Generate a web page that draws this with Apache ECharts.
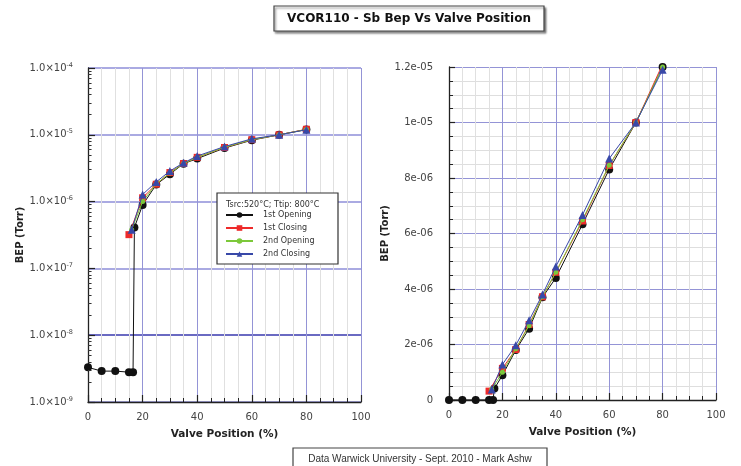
<!DOCTYPE html>
<html>
<head>
<meta charset="utf-8">
<script src="https://cdn.jsdelivr.net/npm/echarts@6/dist/echarts.min.js"></script>
<style>html,body{margin:0;padding:0;background:#fff;}#c{width:741px;height:466px;}</style>
</head>
<body>
<div id="c"></div>
<script>
// ---- data ----
const seriesNames = ['1st Opening', '1st Closing', '2nd Opening', '2nd Closing'];
const open1X  = [0, 5, 10, 15, 16.5, 17, 20, 25, 30, 35, 40, 50, 60, 70, 80];
const open1Y  = [3.3e-9, 2.9e-9, 2.9e-9, 2.8e-9, 2.8e-9, 4.1e-7, 8.9e-7, 1.8e-6, 2.57e-6, 3.7e-6, 4.4e-6, 6.33e-6, 8.31e-6, 1.0e-5, 1.2e-5];
const close1X = [15, 20, 25, 30, 35, 40, 50, 60, 70, 80];
const close1Y = [3.2e-7, 1.14e-6, 1.82e-6, 2.72e-6, 3.72e-6, 4.6e-6, 6.45e-6, 8.45e-6, 1.0e-5, 1.21e-5];
const open2X  = [16, 20, 25, 30, 35, 40, 50, 60, 70, 80];
const open2Y  = [3.8e-7, 1.0e-6, 1.85e-6, 2.68e-6, 3.72e-6, 4.6e-6, 6.5e-6, 8.46e-6, 1.0e-5, 1.2e-5];
const close2X = [16, 20, 25, 30, 35, 40, 50, 60, 70, 80];
const close2Y = [3.8e-7, 1.28e-6, 1.97e-6, 2.87e-6, 3.8e-6, 4.81e-6, 6.67e-6, 8.7e-6, 1.0e-5, 1.19e-5];

const xTickLabels = ['0', '20', '40', '60', '80', '100'];
const leftYTickExps = ['-9', '-8', '-7', '-6', '-5', '-4'];
const rightYTickLabels = ['0', '2e-06', '4e-06', '6e-06', '8e-06', '1e-05', '1.2e-05'];

const titleText = 'VCOR110 - Sb Bep Vs Valve Position';
const legendTitle = 'Tsrc:520°C; Ttip: 800°C';
const footerText = 'Data Warwick University - Sept. 2010 - Mark Ashw';

// ---- build ----
const zip = (xs, ys) => xs.map((x, i) => [x, ys[i]]);
const allData = [zip(open1X, open1Y), zip(close1X, close1Y), zip(open2X, open2Y), zip(close2X, close2Y)];
const colors = ['#111111', '#ee2a2a', '#7cc83a', '#3848a8'];
const symbols = ['circle', 'rect', 'circle', 'triangle'];
const sizes = [8, 7, 5, 8];

// minor log levels (2..9 x 10^n) for gridlines on the log axis
const minorLevels = [];
for (let e = -9; e <= -5; e++) for (let m = 2; m <= 9; m++) minorLevels.push(m * Math.pow(10, e));

const FONT = 'DejaVu Sans';
const chart = echarts.init(document.getElementById('c'), null, {renderer: 'canvas'});

const series = [];
series.push({
  type: 'line', xAxisIndex: 0, yAxisIndex: 0, data: [], silent: true, z: 1,
  markLine: {
    silent: true, animation: false, symbol: ['none', 'none'], label: {show: false},
    lineStyle: {color: '#dcdcdc', width: 1, type: 'solid'},
    data: minorLevels.map(v => ({yAxis: v}))
  }
});
series.push({
  type: 'line', xAxisIndex: 0, yAxisIndex: 0, data: [], silent: true, z: 5,
  markLine: {
    silent: true, animation: false, symbol: ['none', 'none'], label: {show: false},
    lineStyle: {color: '#333', width: 1, type: 'solid'},
    data: minorLevels.map(v => [{coord: [0, v]}, {coord: [1.3, v]}])
  }
});
for (let g = 0; g < 2; g++) {
  for (let i = 0; i < 4; i++) {
    series.push({
      name: seriesNames[i], type: 'line', xAxisIndex: g, yAxisIndex: g,
      data: allData[i], symbol: symbols[i], symbolSize: sizes[i], showSymbol: true,
      itemStyle: {color: colors[i]}, lineStyle: {color: colors[i], width: 1},
      z: 3 + i, animation: false
    });
  }
}

const xAxisBase = (gi) => ({
  type: 'value', gridIndex: gi, min: 0, max: 100, interval: 20,
  axisLine: {show: true, onZero: false, lineStyle: {color: '#222', width: 1.3}},
  axisTick: {show: true, inside: true, length: 7, lineStyle: {color: '#222', width: 1.2}},
  minorTick: {show: true, splitNumber: 4, length: 4, lineStyle: {color: '#222', width: 1}},
  splitLine: {show: true, lineStyle: {color: '#9494d6', width: 1}},
  minorSplitLine: {show: true, lineStyle: {color: '#e0e0e0', width: 1}},
  axisLabel: {fontFamily: FONT, fontSize: 10, color: '#444', margin: 10,
    formatter: (v) => xTickLabels[Math.round(v / 20)]},
  name: 'Valve Position (%)', nameLocation: 'middle', nameGap: 27,
  nameTextStyle: {fontFamily: FONT, fontSize: 10.5, fontWeight: 'bold', color: '#222'}
});

const option = {
  animation: false,
  backgroundColor: '#ffffff',
  grid: [
    {left: 88, top: 68, width: 273, height: 334},
    {left: 449, top: 67, width: 267, height: 333}
  ],
  xAxis: [xAxisBase(0), xAxisBase(1)],
  yAxis: [
    {
      type: 'log', logBase: 10, gridIndex: 0, min: 1e-9, max: 1e-4,
      axisLine: {show: true, lineStyle: {color: '#222', width: 1.3}},
      axisTick: {show: true, inside: true, length: 7, lineStyle: {color: '#222', width: 1.2}},
      splitLine: {show: true, lineStyle: {color: ['#aaaae2', '#6a6ac2', '#aaaae2', '#aaaae2', '#aaaae2', '#aaaae2'], width: 2}},
      axisLabel: {
        margin: 15, color: '#444',
        formatter: (v) => {
          const idx = Math.round(Math.log10(v)) + 9;
          return '{b|1.0×10}{s|' + leftYTickExps[idx] + '}';
        },
        rich: {
          b: {fontFamily: FONT, fontSize: 10, color: '#444'},
          s: {fontFamily: FONT, fontSize: 6.5, color: '#444', padding: [0, 0, 6, 0]}
        }
      },
      name: 'BEP (Torr)', nameLocation: 'middle', nameGap: 63,
      nameTextStyle: {fontFamily: FONT, fontSize: 10, fontWeight: 'bold', color: '#222'}
    },
    {
      type: 'value', gridIndex: 1, min: 0, max: 1.2e-5, interval: 2e-6,
      axisLine: {show: true, lineStyle: {color: '#222', width: 1.3}},
      axisTick: {show: true, inside: true, length: 6, lineStyle: {color: '#222', width: 1.2}},
      minorTick: {show: true, splitNumber: 4, length: 4, lineStyle: {color: '#222', width: 1}},
      splitLine: {show: true, lineStyle: {color: '#9494d6', width: 1}},
      minorSplitLine: {show: true, lineStyle: {color: '#dedede', width: 1}},
      axisLabel: {fontFamily: FONT, fontSize: 10, color: '#444', margin: 16,
        formatter: (v) => rightYTickLabels[Math.round(v / 2e-6)]},
      name: 'BEP (Torr)', nameLocation: 'middle', nameGap: 59,
      nameTextStyle: {fontFamily: FONT, fontSize: 10, fontWeight: 'bold', color: '#222'}
    }
  ],
  legend: {
    data: seriesNames, orient: 'vertical', left: 225, top: 211,
    itemWidth: 27, itemHeight: 7, itemGap: 5, padding: 0, z: 10,
    textStyle: {fontFamily: FONT, fontSize: 8, color: '#333', padding: [0, 0, 0, 5]}
  },
  graphic: [
    {type: 'rect', z: 10, shape: {x: 274, y: 6, width: 270, height: 25},
      style: {fill: '#fff', stroke: '#444', lineWidth: 1.2, shadowColor: 'rgba(0,0,0,0.45)', shadowOffsetX: 1.5, shadowOffsetY: 2, shadowBlur: 2}},
    {type: 'text', z: 11, x: 409, y: 19,
      style: {text: titleText, fontFamily: FONT, fontSize: 12, fontWeight: 'bold', fill: '#111', align: 'center', verticalAlign: 'middle'}},
    {type: 'rect', z: 9, shape: {x: 217, y: 193, width: 121, height: 71},
      style: {fill: '#fff', stroke: '#333', lineWidth: 1.2}},
    {type: 'text', z: 11, x: 226, y: 205,
      style: {text: legendTitle, fontFamily: FONT, fontSize: 8, fill: '#333', align: 'left', verticalAlign: 'middle'}},
    {type: 'rect', z: 10, shape: {x: 293, y: 448, width: 254, height: 24},
      style: {fill: '#fff', stroke: '#444', lineWidth: 1.2}},
    {type: 'text', z: 11, x: 420, y: 459,
      style: {text: footerText, fontFamily: 'Liberation Sans', fontSize: 10, fill: '#333', align: 'center', verticalAlign: 'middle'}}
  ],
  series: series
};
chart.setOption(option);
</script>
</body>
</html>
